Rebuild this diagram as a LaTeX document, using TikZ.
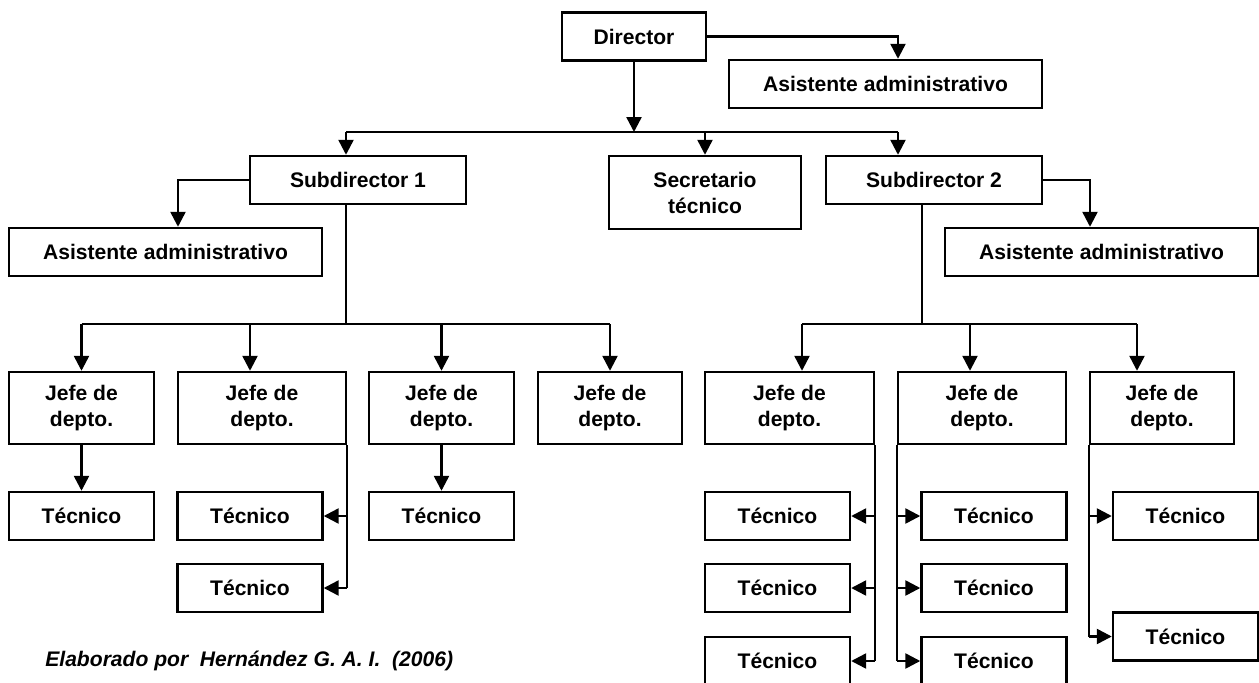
\documentclass[tikz,border=0pt]{standalone}
\usepackage{fontspec}
\setmainfont{Liberation Sans}
\usetikzlibrary{arrows.meta}

\begin{document}
\begin{tikzpicture}[
		x=0.02cm, y=-0.02cm,
		>={Triangle[length=0.3cm, width=0.3cm]},
		% Style for the boxes of the chart
		unit/.style={
			draw, line width=1.4pt, fill=white, align=center, inner sep=2pt,
			font=\fontsize{12}{14.8}\selectfont\bfseries,
			minimum height=0.96cm
		},
		jefe/.style={unit, minimum height=1.44cm},
		tecnico/.style={unit, minimum width=2.9cm},
		% Style for the connectors
		link/.style={->, line width=1.4pt},
		bus/.style={line width=1.4pt}
		]
		
		\useasboundingbox (0,0) rectangle (1259,683);
		
		% ==========================================
		% 1. THE TOP: Director and its staff
		% ==========================================
		\node[unit, minimum width=2.88cm] (dir) at (634,36.5) {Director};
		\node[unit, minimum width=6.26cm] (asis0) at (885.5,84) {Asistente administrativo};
		
		\node[unit, minimum width=4.32cm] (sub1) at (358,180) {Subdirector 1};
		\node[unit, minimum width=3.84cm, minimum height=1.46cm] (sec) at (705,192.5) {Secretario\\técnico};
		\node[unit, minimum width=4.32cm] (sub2) at (934,180) {Subdirector 2};
		
		\node[unit, minimum width=6.26cm] (asis1) at (165.5,252) {Asistente administrativo};
		\node[unit, minimum width=6.26cm] (asis2) at (1101.5,252) {Asistente administrativo};
		
		% Bus under the Director
		\coordinate (top1) at (346,132);
		\coordinate (top2) at (898,132);
		
		\draw[link] (dir.east) -| (top2 |- asis0.north);
		\draw[link] (dir) -- (dir.south |- top1);
		\draw[bus] (top1) -- (top2);
		\draw[link] (top1) -- (top1 |- sub1.north);
		\draw[link] (sec.north |- top1) -- (sec.north);
		\draw[link] (top2) -- (top2 |- sub2.north);
		
		\draw[link] (sub1.west) -| ([xshift=0.25cm]asis1.north);
		\draw[link] (sub2.east) -| ([xshift=-0.23cm]asis2.north);
		
		% ==========================================
		% 2. THE LEFT: Subdirector 1
		% ==========================================
		\node[jefe, minimum width=2.9cm] (j1) at (81.5,408) {Jefe de\\depto.};
		\node[jefe, minimum width=3.36cm] (j2) at (262,408) {Jefe de\\depto.};
		\node[jefe, minimum width=2.9cm] (j3) at (441.5,408) {Jefe de\\depto.};
		\node[jefe, minimum width=2.88cm] (j4) at (610,408) {Jefe de\\depto.};
		
		\node[tecnico] (t1) at (81.5,516) {Técnico};
		\node[tecnico] (t2a) at (250,516) {Técnico};
		\node[tecnico] (t2b) at (250,588) {Técnico};
		\node[tecnico] (t3) at (441.5,516) {Técnico};
		
		\coordinate (mid1) at (346,324);
		\draw[bus] (top1 |- sub1.south) -- (mid1);
		\draw[bus] (j1.north |- mid1) -- (j4.north |- mid1);
		\draw[link] (j1.north |- mid1) -- (j1.north);
		\draw[link] (t2a.north |- mid1) -- (t2a.north |- j2.north);
		\draw[link] (j3.north |- mid1) -- (j3.north);
		\draw[link] (j4.north |- mid1) -- (j4.north);
		
		\draw[link] (j1) -- (t1);
		\draw[link] (j3) -- (t3);
		\draw[bus] (j2.south east) -- (j2.south east |- t2b);
		\draw[link] (j2.south east |- t2a) -- (t2a.east);
		\draw[link] (j2.south east |- t2b) -- (t2b.east);
		
		% ==========================================
		% 3. THE RIGHT: Subdirector 2
		% ==========================================
		\node[jefe, minimum width=3.38cm] (j5) at (789.5,408) {Jefe de\\depto.};
		\node[jefe, minimum width=3.36cm] (j6) at (982,408) {Jefe de\\depto.};
		\node[jefe, minimum width=2.88cm] (j7) at (1162,408) {Jefe de\\depto.};
		
		\node[tecnico] (t5a) at (777.5,516) {Técnico};
		\node[tecnico] (t5b) at (777.5,588) {Técnico};
		\node[tecnico] (t5c) at (777.5,661) {Técnico};
		\node[tecnico] (t6a) at (994,516) {Técnico};
		\node[tecnico] (t6b) at (994,588) {Técnico};
		\node[tecnico] (t6c) at (994,661) {Técnico};
		\node[tecnico] (t7a) at (1185.5,516) {Técnico};
		\node[tecnico] (t7b) at (1185.5,636.5) {Técnico};
		
		\coordinate (mid2) at (922,324);
		\coordinate (m5) at (802,324);
		\coordinate (m6) at (970,324);
		\coordinate (m7) at (1137,324);
		\draw[bus] (mid2 |- sub2.south) -- (mid2);
		\draw[bus] (m5) -- (m7);
		\draw[link] (m5) -- (m5 |- j5.north);
		\draw[link] (m6) -- (m6 |- j6.north);
		\draw[link] (m7) -- (m7 |- j7.north);
		
		\draw[bus] (j5.south east) -- (j5.south east |- t5c);
		\draw[link] (j5.south east |- t5a) -- (t5a.east);
		\draw[link] (j5.south east |- t5b) -- (t5b.east);
		\draw[link] (j5.south east |- t5c) -- (t5c.east);
		
		\draw[bus] (j6.south west) -- (j6.south west |- t6c);
		\draw[link] (j6.south west |- t6a) -- (t6a.west);
		\draw[link] (j6.south west |- t6b) -- (t6b.west);
		\draw[link] (j6.south west |- t6c) -- (t6c.west);
		
		\draw[bus] (j7.south west) -- (j7.south west |- t7b);
		\draw[link] (j7.south west |- t7a) -- (t7a.west);
		\draw[link] (j7.south west |- t7b) -- (t7b.west);
		
		% Source line
		\node[font=\fontsize{12}{14}\selectfont\bfseries\itshape, anchor=base west, inner sep=0pt] (src) at (45,666) {Elaborado por\ \ Hernández G. A. I.\ \ (2006)};
		
	\end{tikzpicture}
\end{document}
